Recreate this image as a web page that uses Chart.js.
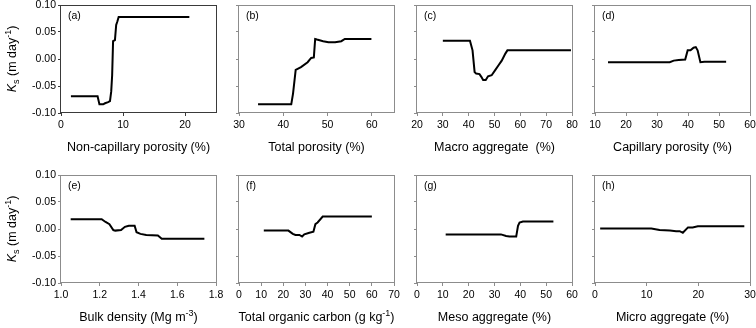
<!DOCTYPE html>
<html><head><meta charset="utf-8">
<script src="https://cdn.jsdelivr.net/npm/chart.js@4.4.1/dist/chart.umd.min.js"></script>
<style>
html,body{margin:0;padding:0;background:#fff;overflow:hidden;width:756px;height:328px;position:relative}
canvas{position:absolute}
</style></head><body>
<script>
// ---- data ----
const aX=[1.6,5.9,6.2,6.8,7.1,7.6,7.9,8.1,8.25,8.4,8.7,8.9,9.1,9.3,20.7];
const aY=[-0.069,-0.069,-0.084,-0.084,-0.082,-0.080,-0.078,-0.060,-0.030,0.033,0.035,0.063,0.070,0.078,0.078];
const bX=[34.3,41.8,42.2,42.8,44.0,45.5,46.3,46.9,47.2,47.6,49.0,50.2,51.7,53.1,53.9,59.9];
const bY=[-0.084,-0.084,-0.064,-0.020,-0.015,-0.006,0.002,0.003,0.037,0.036,0.033,0.031,0.031,0.033,0.037,0.037];
const cX=[30.0,40.5,41.5,42.3,42.9,44.2,44.9,45.6,46.6,47.5,48.9,50.2,51.5,52.8,54.2,55.0,79.6];
const cY=[0.034,0.034,0.016,-0.024,-0.027,-0.028,-0.033,-0.039,-0.039,-0.032,-0.030,-0.021,-0.012,-0.003,0.010,0.016,0.016];
const dX=[14.2,34.1,35.4,37.0,39.1,39.9,40.8,41.8,42.5,43.1,44.0,45.3,52.3];
const dY=[-0.006,-0.006,-0.003,-0.002,-0.001,0.016,0.016,0.021,0.022,0.016,-0.006,-0.005,-0.005];
const eX=[1.05,1.21,1.23,1.25,1.27,1.28,1.31,1.33,1.35,1.38,1.39,1.41,1.44,1.50,1.52,1.74];
const eY=[0.018,0.018,0.013,0.009,-0.002,-0.003,-0.002,0.004,0.006,0.006,-0.006,-0.009,-0.011,-0.012,-0.018,-0.018];
const fX=[11.2,22.3,24.3,25.5,27.3,28.5,29.5,31.8,33.6,34.5,35.5,37.8,60.0];
const fY=[-0.003,-0.003,-0.009,-0.011,-0.011,-0.014,-0.010,-0.007,-0.005,0.009,0.012,0.023,0.023];
const gX=[11.1,32.5,34.5,35.8,38.4,39.1,39.7,41.0,52.8];
const gY=[-0.010,-0.010,-0.013,-0.014,-0.014,0.006,0.012,0.014,0.014];
const hX=[1.0,10.9,12.5,14.5,15.7,16.4,17.0,18.0,18.9,19.9,28.9];
const hY=[0.001,0.001,-0.002,-0.003,-0.004,-0.004,-0.007,0.003,0.003,0.005,0.005];

const yTicks=[-0.10,-0.05,0,0.05,0.10];
const aTicks=[0,10,20], bTicks=[30,40,50,60], cTicks=[20,30,40,50,60,70,80], dTicks=[10,20,30,40,50,60];
const eTicks=[1.0,1.2,1.4,1.6,1.8], fTicks=[0,10,20,30,40,50,60,70], gTicks=[0,10,20,30,40,50,60], hTicks=[0,10,20,30];
const xRanges=[[0,25],[30,65],[20,80],[10,60],[1.0,1.8],[0,70],[0,60],[0,30]];
const panelLabels=['(a)','(b)','(c)','(d)','(e)','(f)','(g)','(h)'];
const xTitles=[
  [{t:'Non-capillary porosity (%)'}],
  [{t:'Total porosity (%)'}],
  [{t:'Macro aggregate  (%)'}],
  [{t:'Capillary porosity (%)'}],
  [{t:'Bulk density (Mg m'},{t:'-3',sup:true},{t:')'}],
  [{t:'Total organic carbon (g kg'},{t:'-1',sup:true},{t:')'}],
  [{t:'Meso aggregate (%)'}],
  [{t:'Micro aggregate (%)'}]
];
const yTitle=[{t:'K',it:true},{t:'s',sub:true},{t:' (m day'},{t:'-1',sup:true},{t:')'}];

const FAM='"Liberation Sans", Arial, Helvetica, sans-serif';
const MAIN=12.5, SMALL=9;

function segFont(s){ return (s.it?'italic ':'')+((s.sub||s.sup)?SMALL:MAIN)+'px '+FAM; }
function drawRich(ctx, segs, cx, cy){
  let total=0;
  segs.forEach(s=>{ctx.font=segFont(s); s.w=ctx.measureText(s.t).width; total+=s.w;});
  let x=cx-total/2;
  ctx.textAlign='left'; ctx.textBaseline='middle';
  segs.forEach(s=>{
    ctx.font=segFont(s);
    const dy = s.sub?3.5:(s.sup?-4.5:0);
    ctx.fillText(s.t, x, cy+dy);
    x+=s.w;
  });
}

const deco={
  id:'deco',
  beforeDatasetsDraw(chart,args,o){
    const {ctx,chartArea:ca}=chart;
    ctx.save();
    ctx.strokeStyle=o.frame; ctx.lineWidth=1;
    ctx.strokeRect(Math.round(ca.left)-0.5, Math.round(ca.top)+0.5, Math.round(ca.right-ca.left)+1, Math.round(ca.bottom-ca.top)-1);
    ctx.restore();
  },
  afterDraw(chart,args,o){
    const {ctx,chartArea:ca}=chart;
    ctx.save();
    ctx.fillStyle='#000';
    ctx.font='10.5px '+FAM; ctx.textAlign='left'; ctx.textBaseline='middle';
    ctx.fillText(o.label, ca.left+7, ca.top+11);
    drawRich(ctx, o.xTitle.map(s=>Object.assign({},s)), (ca.left+ca.right)/2, ca.bottom+35);
    if(o.showY){
      ctx.translate(13,(ca.top+ca.bottom)/2);
      ctx.rotate(-Math.PI/2);
      drawRich(ctx, yTitle.map(s=>Object.assign({},s)), 0, 0);
    }
    ctx.restore();
  }
};

const xs=[aX,bX,cX,dX,eX,fX,gX,hX], ys=[aY,bY,cY,dY,eY,fY,gY,hY];
const xt=[aTicks,bTicks,cTicks,dTicks,eTicks,fTicks,gTicks,hTicks];
const colLeft=[61,239,417,595];

for(let i=0;i<8;i++){
  const row=Math.floor(i/4), col=i%4;
  const cv=document.createElement('canvas');
  const W=228, H= row===0?174:168;
  const top= row===0?-10:160;
  cv.width=W; cv.height=H;
  cv.style.left=(colLeft[col]-61)+'px'; cv.style.top=top+'px';
  cv.style.width=W+'px'; cv.style.height=H+'px';
  document.body.appendChild(cv);
  const frame = i===0 ? '#3a3a3a' : '#8c8c8c';
  const xAxisH = H-15-108;
  const tks=xt[i];
  const isE = i===4;
  new Chart(cv,{
    type:'scatter',
    data:{datasets:[{data:xs[i].map((x,k)=>({x:x,y:ys[i][k]})),showLine:true,borderColor:'#000',borderWidth:2,pointRadius:0,tension:0,fill:false}]},
    options:{
      responsive:false, animation:false, devicePixelRatio:1,
      layout:{padding:{left:0,right:12,top:15,bottom:0}},
      plugins:{legend:{display:false},tooltip:{enabled:false},
        deco:{frame:frame,label:panelLabels[i],xTitle:xTitles[i],showY:col===0}},
      scales:{
        x:{type:'linear',min:xRanges[i][0],max:xRanges[i][1],
          afterBuildTicks:s=>{s.ticks=tks.map(v=>({value:v}));},
          afterFit:s=>{s.height=xAxisH;},
          ticks:{font:{family:FAM,size:10.5},color:'#000',padding:3,maxRotation:0,autoSkip:false,
            callback:v=> isE? Number(v).toFixed(1) : String(v)},
          grid:{drawOnChartArea:false,drawTicks:true,tickLength:3,color:frame},
          border:{display:false}},
        y:{type:'linear',min:-0.1,max:0.1,
          afterBuildTicks:s=>{s.ticks=yTicks.map(v=>({value:v}));},
          afterFit:s=>{s.width=61;},
          ticks:{font:{family:FAM,size:10.5},color:'#000',padding:2,
            callback:v=> col===0? Number(v).toFixed(2) : ''},
          grid:{drawOnChartArea:false,drawTicks:true,tickLength:3,color:frame},
          border:{display:false}}
      }
    },
    plugins:[deco]
  });
}
</script>
</body></html>
